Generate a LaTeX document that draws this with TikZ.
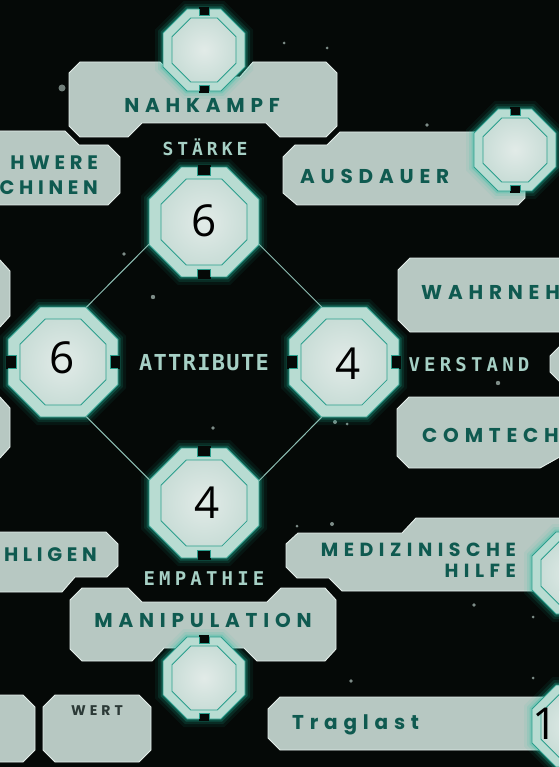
\documentclass[tikz,border=0pt]{standalone}
\usepackage{fontspec}
\usetikzlibrary{shapes.geometric}
\newfontfamily\panfont{Poppins}[LetterSpace=29]
\newfontfamily\panfontb{Poppins}[LetterSpace=24]
\newfontfamily\labfont{DejaVu Sans Mono}[LetterSpace=22]
\newfontfamily\attfont{DejaVu Sans Mono}[LetterSpace=6]
\newfontfamily\numfont{Open Sans}
\definecolor{bgc}{HTML}{050907}
\definecolor{panelc}{HTML}{B7C8C2}
\definecolor{paneledge}{HTML}{E4EEEA}
\definecolor{pantext}{HTML}{0F5A50}
\definecolor{labc}{HTML}{A6D0C5}
\definecolor{linec}{HTML}{8DBFB3}
\definecolor{ringc}{HTML}{B8DCD2}
\definecolor{ringedge}{HTML}{2A9F8D}
\definecolor{innerc}{HTML}{C9DDD7}
\definecolor{innerlight}{HTML}{E2EBE8}
\definecolor{glowc}{HTML}{1FC2A4}
\definecolor{wertc}{HTML}{2C3A37}
\definecolor{starc}{HTML}{7D8C87}
\tikzset{
  panel/.style={fill=panelc, draw=paneledge, line width=0.9pt, line join=miter},
  pantxt/.style={font=\panfont\bfseries\fontsize{20}{25}\selectfont, text=pantext, inner sep=0pt},
  pantxtb/.style={font=\panfontb\bfseries\fontsize{19.5}{25}\selectfont, text=pantext, inner sep=0pt},
  labtxt/.style={font=\labfont\bfseries\fontsize{19}{22}\selectfont, text=labc, inner sep=0pt},
  numtxt/.style={font=\numfont\fontsize{44}{44}\selectfont, text=black, inner sep=0pt},
  octout/.style={regular polygon, regular polygon sides=8, inner sep=0pt, outer sep=0pt,
    fill=ringc, draw=ringedge, line width=0.9pt,
    preaction={draw=glowc, line width=16pt, opacity=0.07},
    preaction={draw=glowc, line width=10pt, opacity=0.13},
    preaction={draw=glowc, line width=5pt, opacity=0.25}},
  octin/.style={regular polygon, regular polygon sides=8, inner sep=0pt, outer sep=0pt,
    inner color=innerlight, outer color=innerc, draw=ringedge, line width=0.8pt},
  notch/.style={fill=bgc},
  notchedge/.style={draw=ringedge, line width=0.8pt},
  conn/.style={draw=linec, line width=1pt},
  star/.style={fill=starc}
}
% #1 name, #2 x, #3 y, #4 apothem, #5 ring, #6 notch half width, #7 notch depth, #8 v/h
\newcommand\octa[8]{%
  \pgfmathsetmacro\oA{2*#4*1.08239}%
  \pgfmathsetmacro\oB{2*(#4-#5)*1.08239}%
  \node[octout, minimum size=\oA pt] (#1) at (#2,#3) {};
  \node[octin, minimum size=\oB pt] (#1i) at (#2,#3) {};
  \if#8v%
    \fill[notch] (#2-#6,#3-#4-2) rectangle (#2+#6,#3-#4+#7);
    \draw[notchedge] (#2-#6,#3-#4-0.4) -- (#2-#6,#3-#4+#7) -- (#2+#6,#3-#4+#7) -- (#2+#6,#3-#4-0.4);
    \fill[notch] (#2-#6,#3+#4+2) rectangle (#2+#6,#3+#4-#7);
    \draw[notchedge] (#2-#6,#3+#4+0.4) -- (#2-#6,#3+#4-#7) -- (#2+#6,#3+#4-#7) -- (#2+#6,#3+#4+0.4);
  \else
    \fill[notch] (#2-#4-2,#3-#6) rectangle (#2-#4+#7,#3+#6);
    \draw[notchedge] (#2-#4-0.4,#3-#6) -- (#2-#4+#7,#3-#6) -- (#2-#4+#7,#3+#6) -- (#2-#4-0.4,#3+#6);
    \fill[notch] (#2+#4+2,#3-#6) rectangle (#2+#4-#7,#3+#6);
    \draw[notchedge] (#2+#4+0.4,#3-#6) -- (#2+#4-#7,#3-#6) -- (#2+#4-#7,#3+#6) -- (#2+#4+0.4,#3+#6);
  \fi
}
\begin{document}
\begin{tikzpicture}[x=1pt,y=-1pt]
\useasboundingbox (0,0) rectangle (559,767);
\clip (0,0) rectangle (559,767);
\fill[bgc] (0,0) rectangle (559,767);
% stars
\fill[star, opacity=0.9] (62,88) circle (3.5pt);
\foreach \sx/\sy/\sr in {284/43/1.5, 327/48/1.5, 427/125/1.8, 124/254/1.8, 153/297/2.2, 213/428/1.8, 498/383/2.2, 335/422/2, 347/424/1.5, 297/526/1.5, 332/524/2, 474/605/1.8, 533/678/1.5, 351/681/1.8, 533/617/1.5}
  \fill[star] (\sx,\sy) circle (\sr pt);
% panels
\draw[panel] (80,62) -- (160,62) -- (175,77) -- (240,77) -- (253,62) -- (326,62) -- (337,73) -- (337,126) -- (326,137) -- (280,137) -- (266,123) -- (142,123) -- (128,137) -- (80,137) -- (69,126) -- (69,73) -- cycle;
\draw[panel] (-5,131) -- (65,131) -- (79,145) -- (108,145) -- (120,157) -- (120,193) -- (108,205) -- (-5,205) -- cycle;
\draw[panel] (295,145) -- (327,145) -- (340,132) -- (525,132) -- (525,198) -- (518,205) -- (297,205) -- (283,193) -- (283,157) -- cycle;
\draw[panel] (410,258) -- (565,258) -- (565,332) -- (410,332) -- (398,320) -- (398,270) -- cycle;
\draw[panel] (565,345) -- (561,345) -- (550,356) -- (550,372) -- (561,383) -- (565,383) -- cycle;
\draw[panel] (409,397) -- (565,397) -- (565,454) -- (540,468) -- (409,468) -- (397,456) -- (397,409) -- cycle;
\draw[panel] (-5,260) -- (0,260) -- (10,271) -- (10,316) -- (0,327) -- (-5,327) -- cycle;
\draw[panel] (-5,397) -- (0,397) -- (10,408) -- (10,447) -- (0,458) -- (-5,458) -- cycle;
\draw[panel] (-5,532) -- (106,532) -- (118,544) -- (118,566) -- (107,577) -- (75,577) -- (62,592) -- (-5,592) -- cycle;
\draw[panel] (82,588) -- (128,588) -- (142,602) -- (267,602) -- (281,588) -- (325,588) -- (336,600) -- (336,649) -- (325,661) -- (257,661) -- (244,648) -- (164,648) -- (152,661) -- (82,661) -- (70,649) -- (70,600) -- cycle;
\draw[panel] (298,533) -- (402,533) -- (416,518) -- (565,518) -- (565,591) -- (342,591) -- (329,578) -- (297,578) -- (286,567) -- (286,544) -- cycle;
\draw[panel] (55,695) -- (139,695) -- (151,707) -- (151,750) -- (139,762) -- (55,762) -- (43,750) -- (43,707) -- cycle;
\draw[panel] (-5,695) -- (23,695) -- (35,707) -- (35,750) -- (23,762) -- (-5,762) -- cycle;
\draw[panel] (280,697) -- (545,697) -- (545,750) -- (280,750) -- (268,738) -- (268,709) -- cycle;
% panel texts
\node[pantxt] (tNah) at (202,105) {NAHKAMPF};
\node[pantxtb, align=right, anchor=east] (tSchw) at (98,175.5) {HWERE\\CHINEN};
\node[pantxt, anchor=west] (tAus) at (300,176) {AUSDAUER};
\node[pantxt, anchor=west] (tWahr) at (421,292) {WAHRNEH};
\node[pantxt, anchor=west] (tCom) at (422,435) {COMTECH};
\node[pantxtb, anchor=east] (tBef) at (97,555) {HLIGEN};
\node[pantxt] (tMan) at (203,620) {MANIPULATION};
\node[pantxt, align=right, anchor=east, font=\panfont\bfseries\fontsize{19}{21}\selectfont] (tMed) at (516,560.5) {MEDIZINISCHE\\HILFE};
\node[pantxt, anchor=west] (tTrag) at (292,725) {Traglast};
\node[pantxt, font=\panfont\bfseries\fontsize{14}{16}\selectfont, text=wertc] (tWert) at (97,711) {WERT};
% octagons
\octa{str}{204}{222}{55}{12}{6.5}{8}{v}
\octa{lft}{63}{362}{55}{12}{6.5}{8}{h}
\octa{ver}{344}{362}{55}{12}{6.5}{8}{h}
\octa{emp}{204}{503}{55}{12}{6.5}{8}{v}
\octa{nah}{204}{50}{41}{9}{5}{6}{v}
\octa{aus}{515}{150}{41}{9}{5}{6}{v}
\octa{man}{204}{678}{41}{9}{5}{6}{v}
\octa{med}{573}{573}{41}{9}{5}{6}{v}
\octa{tra}{573}{726}{41}{9}{5}{6}{v}
% connectors
\draw[conn] (str.202.5) -- (lft.67.5);
\draw[conn] (str.-22.5) -- (ver.112.5);
\draw[conn] (lft.-67.5) -- (emp.157.5);
\draw[conn] (ver.-112.5) -- (emp.22.5);
% numbers
\node[numtxt] (nStr) at (204,221) {6};
\node[numtxt] (nLft) at (62,358) {6};
\node[numtxt] (nVer) at (348,364) {4};
\node[numtxt] (nEmp) at (207,503) {4};
\node[numtxt] (nTra) at (545,724) {1};
% labels
\node[labtxt, font=\labfont\bfseries\fontsize{18}{20}\selectfont] (lStr) at (205,147) {STÄRKE};
\node[labtxt, font=\attfont\bfseries\fontsize{22}{24}\selectfont] (lAtt) at (204,363) {ATTRIBUTE};
\node[labtxt] (lVer) at (469,365) {VERSTAND};
\node[labtxt] (lEmp) at (204,579) {EMPATHIE};
\end{tikzpicture}
\end{document}
